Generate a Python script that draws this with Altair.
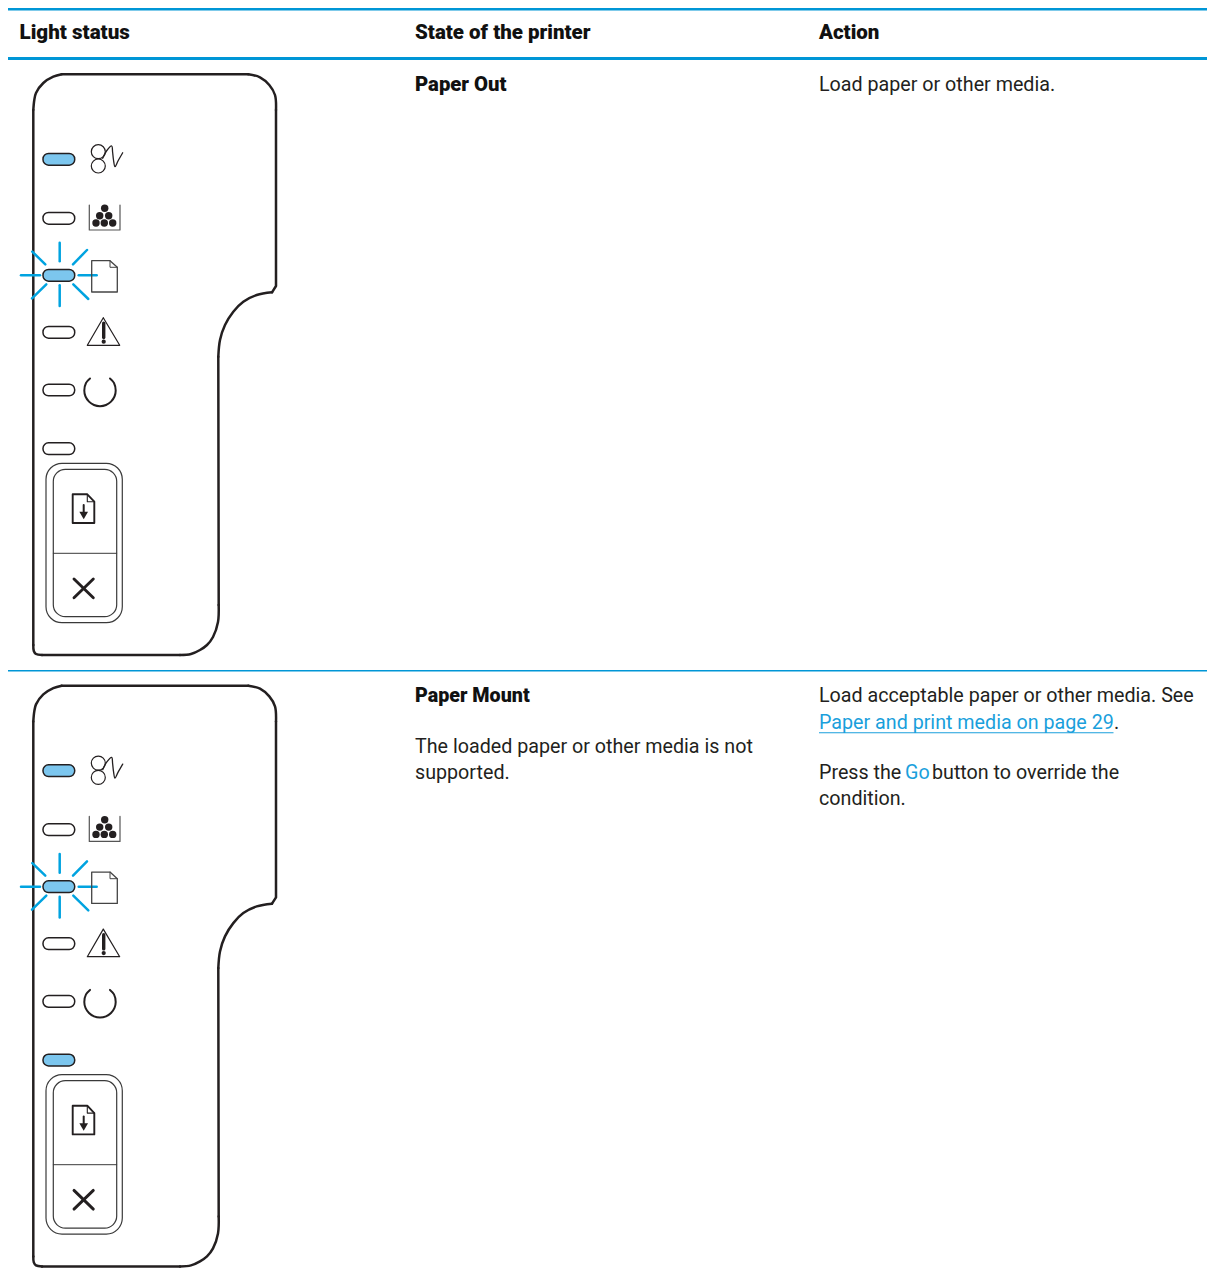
import altair as alt
import pandas as pd

# --- colours ---
BLUE = "#0096d6"
LINK = "#1a9fdc"
DARK = "#231f20"
LIT = "#7cc6ee"

# --- text ---
regular_text = ["Load paper or other media.", "The loaded paper or other media is not", "supported.",
                "Load acceptable paper or other media. See", "Paper and print media on page 29", ".",
                "Press the", "Go", "button to override the", "condition."]
regular_x = [819, 415, 415, 819, 819, 1114, 819, 905, 932, 819]
regular_y = [91, 753, 779, 702, 729, 729, 779, 779, 779, 805]
regular_c = [DARK, DARK, DARK, DARK, LINK, DARK, DARK, LINK, DARK, DARK]
bold_text = ["Light status", "State of the printer", "Action", "Paper Out", "Paper Mount"]
bold_x = [19.5, 415, 819, 415, 415]
bold_y = [39, 39, 39, 91, 702]
bold_size = [20.6, 20.5, 20.5, 20.3, 19.7]

# --- horizontal rules: x, x2, y, y2 ---
bands_y = [8, 57, 670]
bands_y2 = [10.5, 60, 671.4]
band_x = [8, 1207.5]
link_rule = [819, 1113.5, 732.3]

# --- panel drawing (first row's positions) ---
row_offsets = [0, 611.4]
edge_x = [[33.3, 33.3], [61.7, 248.3], [276, 276, 272], [218.3, 218.7], [180, 42]]
edge_y = [[110, 645], [74.3, 74.3], [110, 286, 292.3], [356.7, 605], [655, 655]]
corner_x = [[33.3, 34.3, 36, 43.3, 53.3, 61.7],
            [248.3, 260, 269.3, 275, 276],
            [272, 256.7, 243.3, 233.3, 225, 220, 218.3],
            [218.7, 218, 213, 207, 200, 191, 180],
            [42, 36, 33.8, 33.3]]
corner_y = [[110, 100, 93, 83, 76.7, 74.3],
            [74.3, 77.3, 85, 95, 110],
            [292.3, 295, 301.7, 311.7, 325, 340, 356.7],
            [605, 622, 637, 645, 650, 654, 655],
            [655, 654, 651, 645]]
pill_y = [159.3, 218.3, 275.3, 332.3, 390, 448.7]
pill_x = [43, 74.7]
pill_h = 11.7
lit_rows = [[True, False, True, False, False, False], [True, False, True, False, False, True]]
ray_x1 = [59.7, 59.7, 21, 78.7, 32.3, 87, 46.3, 73.3]
ray_y1 = [242.7, 285.3, 275.3, 275.3, 251.7, 250, 284.3, 284.3]
ray_x2 = [59.7, 59.7, 40, 96.7, 45.3, 73, 32, 88.3]
ray_y2 = [261.3, 306, 275.3, 275.3, 264.3, 264.3, 298.3, 299]
jam_circle_x = [98.3, 98.3]
jam_circle_y = [151.7, 166]
squiggle_x = [102.7, 106.5, 111.7, 112.6, 113.5, 115, 118, 122.7]
squiggle_y = [158.3, 151, 146, 152, 160, 166.7, 161, 152.7]
tray_x = [89.3, 89.3, 120, 120]
tray_y = [205, 230, 230, 205]
toner_x = [104.7, 99.7, 108.7, 96, 104.3, 112.7]
toner_y = [208.3, 215.7, 215.7, 223, 223, 223]
sheet_x = [91.7, 110, 117.3, 117.3, 91.7, 91.7]
sheet_y = [260.7, 260.7, 267.3, 292, 292, 260.7]
sheet_fold_x = [110, 110, 117.3]
sheet_fold_y = [260.7, 267.3, 267.3]
warn_x = [103.3, 119.7, 87.3, 103.3]
warn_y = [317.7, 345.3, 345.3, 317.7]
bang_x = [103.7, 103.7]
bang_y = [323.3, 337.5]
bang_dot = [103.7, 341.7]
go_x = [90, 86, 84.3, 85.5, 89, 94, 100, 106, 111, 114.5, 115.7, 114, 110]
go_y = [378.5, 383, 390.5, 396.5, 401.6, 405, 406.2, 405, 401.6, 396.5, 390.5, 383, 378.5]
button_x = [46, 122.3]
button_y = [463.3, 622.7]
button_in_x = [53.3, 116.7]
button_in_y = [469.3, 616.7]
button_div_y = 553.3
go_doc_x = [72.7, 87.3, 94.3, 94.3, 72.7, 72.7]
go_doc_y = [494.3, 494.3, 501.7, 523, 523, 494.3]
go_fold_x = [87.3, 87.3, 94.3]
go_fold_y = [494.3, 501.7, 501.7]
arrow_x = [83.7, 83.7]
arrow_y = [505, 513]
arrow_head = [83.7, 515.5]
cross_a_x = [74, 93.3]
cross_a_y = [579, 597.7]
cross_b_x = [93.3, 74]
cross_b_y = [579, 597.7]

X = alt.X("x:Q", scale=alt.Scale(domain=[8, 1207], nice=False, zero=False, padding=0), axis=None)
Y = alt.Y("y:Q", scale=alt.Scale(domain=[1272, 8], nice=False, zero=False, padding=0), axis=None)


def path(xs, ys, color=DARK, width=1.5, interp="linear"):
    layers = []
    for off in row_offsets:
        df = pd.DataFrame({"x": xs, "y": [v + off for v in ys], "i": range(len(xs))})
        layers.append(
            alt.Chart(df).mark_line(color=color, strokeWidth=width, interpolate=interp, clip=False,
                                    strokeCap="round", strokeJoin="round")
            .encode(x=X, y=Y, order="i:Q")
        )
    return layers


def box(x0, x1, y0, y1, fill, stroke, width, radius, rows=row_offsets):
    df = pd.DataFrame({"x": [x0] * len(rows), "x2": [x1] * len(rows),
                       "y": [y0 + r for r in rows], "y2": [y1 + r for r in rows]})
    return alt.Chart(df).mark_rect(fill=fill, stroke=stroke, strokeWidth=width, cornerRadius=radius).encode(
        x=X, x2="x2:Q", y=Y, y2="y2:Q")


def dots(xs, ys, size, shape="circle", filled=True, color=DARK, width=1.3):
    rows = []
    for off in row_offsets:
        rows += [{"x": a, "y": b + off} for a, b in zip(xs, ys)]
    if filled:
        m = alt.Chart(pd.DataFrame(rows)).mark_point(shape=shape, filled=True, color=color, size=size, opacity=1)
    else:
        m = alt.Chart(pd.DataFrame(rows)).mark_point(shape=shape, filled=False, color=color, size=size,
                                                     strokeWidth=width, opacity=1)
    return m.encode(x=X, y=Y)


layers = []

# rules
layers.append(alt.Chart(pd.DataFrame({"x": [band_x[0]] * 3, "x2": [band_x[1]] * 3, "y": bands_y, "y2": bands_y2}))
              .mark_rect(color=BLUE, clip=False).encode(x=X, x2="x2:Q", y=Y, y2="y2:Q"))
layers.append(alt.Chart(pd.DataFrame({"x": [link_rule[0]], "x2": [link_rule[1]], "y": [link_rule[2]], "y2": [link_rule[2] + 1]}))
              .mark_rect(color=LINK).encode(x=X, x2="x2:Q", y=Y, y2="y2:Q"))

# panel outlines
for xs, ys in zip(edge_x, edge_y):
    layers += path(xs, ys, width=2.5)
for xs, ys in zip(corner_x, corner_y):
    layers += path(xs, ys, width=2.5, interp="catmull-rom")

# pills
for row, off in enumerate(row_offsets):
    for lit, py in zip(lit_rows[row], pill_y):
        layers.append(box(pill_x[0], pill_x[1], py - pill_h / 2, py + pill_h / 2,
                          LIT if lit else "#ffffff", DARK, 1.5, 5.5, rows=[off]))

# rays
for a, b, c, d in zip(ray_x1, ray_y1, ray_x2, ray_y2):
    layers += path([a, c], [b, d], color="#00a3e0", width=2.5)

# icons
layers.append(dots(jam_circle_x, jam_circle_y, 196, filled=False, width=1.2))
layers += path(squiggle_x, squiggle_y, width=1.3, interp="catmull-rom")
layers += path(tray_x, tray_y, color="#555555", width=1.2)
layers.append(dots(toner_x, toner_y, 55))
layers += path(sheet_x, sheet_y, color="#444444", width=1.3)
layers += path(sheet_fold_x, sheet_fold_y, color="#444444", width=1)
layers += path(warn_x, warn_y, width=1.2)
layers += path(bang_x, bang_y, width=3.4)
layers.append(dots([bang_dot[0]], [bang_dot[1]], 18))
layers += path(go_x, go_y, width=2, interp="catmull-rom")

# buttons
layers.append(box(button_x[0], button_x[1], button_y[0], button_y[1], "#ffffff", "#3a3a3a", 1.2, 16))
layers.append(box(button_in_x[0], button_in_x[1], button_in_y[0], button_in_y[1], "#ffffff", "#3a3a3a", 1.2, 12))
layers += path(button_in_x, [button_div_y, button_div_y], color="#3a3a3a", width=1)
layers += path(go_doc_x, go_doc_y, width=1.9)
layers += path(go_fold_x, go_fold_y, width=1.1)
layers += path(arrow_x, arrow_y, width=2)
layers.append(dots([arrow_head[0]], [arrow_head[1]], 75, shape="triangle-down"))
layers += path(cross_a_x, cross_a_y, width=2.9)
layers += path(cross_b_x, cross_b_y, width=2.9)

# text
reg = pd.DataFrame({"x": regular_x, "y": regular_y, "t": regular_text, "c": regular_c})
layers.append(alt.Chart(reg).mark_text(align="left", baseline="alphabetic", font="Roboto", fontSize=19.7).encode(
    x=X, y=Y, text="t:N", color=alt.Color("c:N", scale=None)))
bld = pd.DataFrame({"x": bold_x, "y": bold_y, "t": bold_text, "s": bold_size})
layers.append(alt.Chart(bld).mark_text(align="left", baseline="alphabetic", font="Roboto",
                                       fontWeight=900, color="#111111").encode(
    x=X, y=Y, text="t:N", size=alt.Size("s:Q", scale=None, legend=None)))

chart = alt.layer(*layers).properties(
    width=1199, height=1264, padding=0, autosize=alt.AutoSizeParams(type="none"),
).configure_view(stroke=None)

chart.save("out.html", embed_options={"renderer": "svg", "actions": False})
